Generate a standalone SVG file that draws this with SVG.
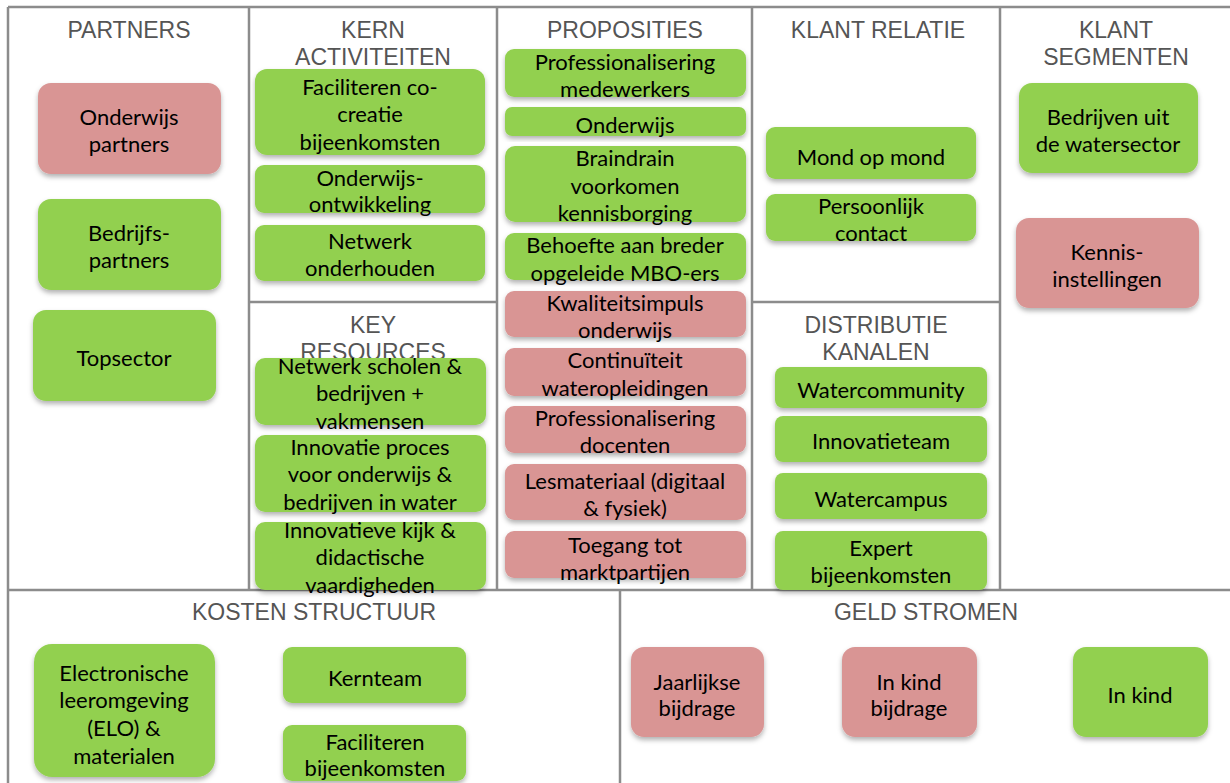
<svg xmlns="http://www.w3.org/2000/svg" width="1230" height="783" viewBox="0 0 1230 783">
<style>
.frame{fill:none;stroke:#8c8c8c;stroke-width:2.5}
.hd{font-family:"Liberation Sans",Arial,sans-serif;font-size:23px;fill:#555;text-anchor:middle}
.g{fill:#92d050;filter:url(#sh)}
.p{fill:#d99594;filter:url(#sh)}
.t{font-family:Lato,"Open Sans",sans-serif;font-size:22px;fill:#000;text-anchor:middle}
</style>
<defs>
<filter id="sh" x="-10%" y="-10%" width="120%" height="130%">
<feDropShadow dx="0" dy="3" stdDeviation="2.5" flood-color="#000" flood-opacity="0.3"/>
</filter>
</defs>
<rect width="1230" height="783" fill="#fff"/>
<g id="frame" class="frame">
<path d="M8 7H1230M8 7V783M249 7V590M497 7V590M752 7V590M1000 7V590M249 302H497M752 302H1000M8 590H1230M620 590V783"/>
</g>
<g id="headers">
<text class="hd" x="129" y="38">PARTNERS</text>
<text class="hd" x="373" y="38">KERN</text>
<text class="hd" x="373" y="65">ACTIVITEITEN</text>
<text class="hd" x="625" y="38">PROPOSITIES</text>
<text class="hd" x="878" y="38">KLANT RELATIE</text>
<text class="hd" x="1116" y="38">KLANT</text>
<text class="hd" x="1116" y="65">SEGMENTEN</text>
<text class="hd" x="373" y="333">KEY</text>
<text class="hd" x="373" y="360">RESOURCES</text>
<text class="hd" x="876" y="333">DISTRIBUTIE</text>
<text class="hd" x="876" y="360">KANALEN</text>
<text class="hd" x="314" y="620">KOSTEN STRUCTUUR</text>
<text class="hd" x="926" y="620">GELD STROMEN</text>
</g>
<g id="n1"><rect class="p" x="38" y="83" width="183" height="91" rx="13"/><text class="t" x="129" y="125">Onderwijs</text><text class="t" x="129" y="152">partners</text></g>
<g id="n2"><rect class="g" x="38" y="199" width="183" height="91" rx="13"/><text class="t" x="129" y="241">Bedrijfs-</text><text class="t" x="129" y="268">partners</text></g>
<g id="n3"><rect class="g" x="33" y="310" width="183" height="91" rx="13"/><text class="t" x="124" y="366">Topsector</text></g>
<g id="n4"><rect class="g" x="255" y="69" width="230" height="86" rx="12"/><text class="t" x="370" y="95">Faciliteren co-</text><text class="t" x="370" y="122">creatie</text><text class="t" x="370" y="150">bijeenkomsten</text></g>
<g id="n5"><rect class="g" x="255" y="165" width="230" height="48" rx="9"/><text class="t" x="370" y="186">Onderwijs-</text><text class="t" x="370" y="212">ontwikkeling</text></g>
<g id="n6"><rect class="g" x="255" y="225" width="230" height="56" rx="9"/><text class="t" x="370" y="249">Netwerk</text><text class="t" x="370" y="276">onderhouden</text></g>
<g id="n7"><rect class="g" x="255" y="358" width="231" height="67" rx="10"/><text class="t" x="370" y="374">Netwerk scholen &amp;</text><text class="t" x="370" y="401">bedrijven +</text><text class="t" x="370" y="429">vakmensen</text></g>
<g id="n8"><rect class="g" x="255" y="435" width="231" height="77" rx="10"/><text class="t" x="370" y="455">Innovatie proces</text><text class="t" x="370" y="482">voor onderwijs &amp;</text><text class="t" x="370" y="510">bedrijven in water</text></g>
<g id="n9"><rect class="g" x="255" y="522" width="231" height="68" rx="10"/><text class="t" x="370" y="538">Innovatieve kijk &amp;</text><text class="t" x="370" y="565">didactische</text><text class="t" x="370" y="593">vaardigheden</text></g>
<g id="n10"><rect class="g" x="505" y="49" width="241" height="48" rx="9"/><text class="t" x="625" y="70">Professionalisering</text><text class="t" x="625" y="97">medewerkers</text></g>
<g id="n11"><rect class="g" x="505" y="107" width="241" height="29" rx="7"/><text class="t" x="625" y="133">Onderwijs</text></g>
<g id="n12"><rect class="g" x="505" y="146" width="241" height="76" rx="10"/><text class="t" x="625" y="166">Braindrain</text><text class="t" x="625" y="194">voorkomen</text><text class="t" x="625" y="221">kennisborging</text></g>
<g id="n13"><rect class="g" x="505" y="233" width="241" height="47" rx="9"/><text class="t" x="625" y="253">Behoefte aan breder</text><text class="t" x="625" y="281">opgeleide MBO-ers</text></g>
<g id="n14"><rect class="p" x="505" y="291" width="241" height="46" rx="9"/><text class="t" x="625" y="311">Kwaliteitsimpuls</text><text class="t" x="625" y="338">onderwijs</text></g>
<g id="n15"><rect class="p" x="505" y="348" width="241" height="48" rx="9"/><text class="t" x="625" y="368">Continuïteit</text><text class="t" x="625" y="396">wateropleidingen</text></g>
<g id="n16"><rect class="p" x="505" y="406" width="241" height="47" rx="9"/><text class="t" x="625" y="426">Professionalisering</text><text class="t" x="625" y="453">docenten</text></g>
<g id="n17"><rect class="p" x="505" y="464" width="241" height="56" rx="9"/><text class="t" x="625" y="489">Lesmateriaal (digitaal</text><text class="t" x="625" y="516">&amp; fysiek)</text></g>
<g id="n18"><rect class="p" x="505" y="531" width="241" height="47" rx="9"/><text class="t" x="625" y="553">Toegang tot</text><text class="t" x="625" y="580">marktpartijen</text></g>
<g id="n19"><rect class="g" x="766" y="127" width="210" height="52" rx="9"/><text class="t" x="871" y="165">Mond op mond</text></g>
<g id="n20"><rect class="g" x="766" y="194" width="210" height="47" rx="9"/><text class="t" x="871" y="214">Persoonlijk</text><text class="t" x="871" y="241">contact</text></g>
<g id="n21"><rect class="g" x="1019" y="83" width="179" height="90" rx="13"/><text class="t" x="1108" y="125">Bedrijven uit</text><text class="t" x="1108" y="152">de watersector</text></g>
<g id="n22"><rect class="p" x="1016" y="218" width="183" height="90" rx="13"/><text class="t" x="1107" y="260">Kennis-</text><text class="t" x="1107" y="287">instellingen</text></g>
<g id="n23"><rect class="g" x="775" y="367" width="212" height="41" rx="8"/><text class="t" x="881" y="398">Watercommunity</text></g>
<g id="n24"><rect class="g" x="775" y="416" width="212" height="46" rx="8"/><text class="t" x="881" y="449">Innovatieteam</text></g>
<g id="n25"><rect class="g" x="775" y="473" width="212" height="46" rx="8"/><text class="t" x="881" y="507">Watercampus</text></g>
<g id="n26"><rect class="g" x="775" y="531" width="212" height="59" rx="8"/><text class="t" x="881" y="556">Expert</text><text class="t" x="881" y="583">bijeenkomsten</text></g>
<g id="n27"><rect class="g" x="34" y="644" width="181" height="133" rx="18"/><text class="t" x="124" y="681">Electronische</text><text class="t" x="124" y="708">leeromgeving</text><text class="t" x="124" y="736">(ELO) &amp;</text><text class="t" x="124" y="764">materialen</text></g>
<g id="n28"><rect class="g" x="283" y="647" width="183" height="56" rx="9"/><text class="t" x="375" y="686">Kernteam</text></g>
<g id="n29"><rect class="g" x="283" y="725" width="183" height="56" rx="9"/><text class="t" x="375" y="750">Faciliteren</text><text class="t" x="375" y="776">bijeenkomsten</text></g>
<g id="n30"><rect class="p" x="631" y="647" width="133" height="90" rx="13"/><text class="t" x="697" y="690">Jaarlijkse</text><text class="t" x="697" y="716">bijdrage</text></g>
<g id="n31"><rect class="p" x="842" y="647" width="135" height="90" rx="13"/><text class="t" x="909" y="690">In kind</text><text class="t" x="909" y="716">bijdrage</text></g>
<g id="n32"><rect class="g" x="1073" y="647" width="135" height="90" rx="13"/><text class="t" x="1140" y="703">In kind</text></g>
</svg>
